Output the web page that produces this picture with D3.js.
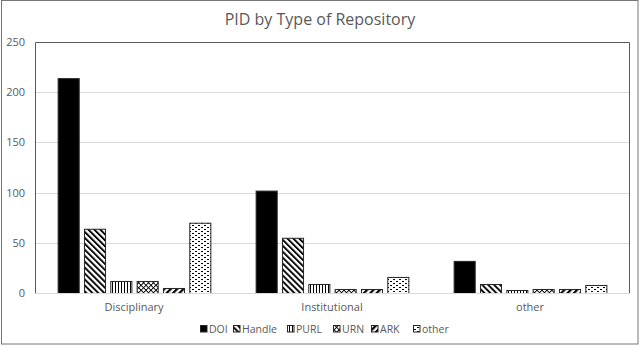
<!DOCTYPE html>
<html><head><meta charset="utf-8">
<script src="https://cdn.jsdelivr.net/npm/d3@7"></script>
<style>body{margin:0;background:#fff}svg{display:block}text{font-family:"Open Sans","Liberation Sans",sans-serif}</style>
</head><body><svg id="c" width="640" height="346"></svg>
<script>
const categories = ["Disciplinary", "Institutional", "other"];
const series = ["DOI", "Handle", "PURL", "URN", "ARK", "other"];
const DOI = [214, 102, 32];
const Handle = [64, 55, 9];
const PURL = [12, 9, 3];
const URN = [12, 4, 4];
const ARK = [5, 4, 4];
const Other = [70, 16, 8];
const values = [DOI, Handle, PURL, URN, ARK, Other];
const yTicks = [0, 50, 100, 150, 200, 250];
const title = "PID by Type of Repository";

const svg = d3.select("#c");
const grey = "#595959";
const m = {l: 35, r: 629, t: 42, b: 293};

const defs = svg.append("defs");
const fills = ["#000"];
function pat(id, w, h, draw, rot) {
  const p = defs.append("pattern").attr("id", id).attr("patternUnits", "userSpaceOnUse")
    .attr("width", w).attr("height", h);
  if (rot) p.attr("patternTransform", "rotate(" + rot + ")");
  p.append("rect").attr("width", w).attr("height", h).attr("fill", "#fff");
  draw(p);
  return "url(#" + id + ")";
}
fills.push(pat("pHandle", 4.2, 4.2, p => p.append("rect").attr("x", 0).attr("y", 0).attr("width", 1.9).attr("height", 4.2).attr("fill", "#000"), -45));
fills.push(pat("pPurl", 3, 3, p => p.append("rect").attr("x", 1).attr("y", 0).attr("width", 1).attr("height", 3).attr("fill", "#000")));
fills.push(pat("pUrn", 3.5, 3.5, p => {
  p.append("rect").attr("x", 0).attr("y", 0).attr("width", 0.9).attr("height", 3.5).attr("fill", "#000");
  p.append("rect").attr("x", 0).attr("y", 0).attr("width", 3.5).attr("height", 0.9).attr("fill", "#000");
}, 45));
fills.push(pat("pArk", 4.5, 4.5, p => p.append("rect").attr("x", 0).attr("y", 0).attr("width", 2.2).attr("height", 4.5).attr("fill", "#000"), 45));
fills.push(pat("pOther", 6, 4, p => {
  p.append("rect").attr("x", 0).attr("y", 1).attr("width", 2).attr("height", 1).attr("fill", "#000");
  p.append("rect").attr("x", 3).attr("y", 3).attr("width", 2).attr("height", 1).attr("fill", "#000");
}));

// outer border
svg.append("rect").attr("x", 1.5).attr("y", 0.5).attr("width", 636.5).attr("height", 343.5)
  .attr("fill", "none").attr("stroke", "#767676").attr("stroke-width", 1);

const y = d3.scaleLinear().domain([0, 250]).range([m.b, m.t]);
const x0 = d3.scaleBand().domain(categories).range([m.l, m.r]).padding(0);
const x1 = d3.scaleBand().domain(series).range([0, x0.bandwidth()]).paddingInner(0.2).paddingOuter(0.86);

// gridlines
svg.append("g").selectAll("line").data(yTicks.filter(t => t > 0 && t < 250)).join("line")
  .attr("x1", m.l).attr("x2", m.r).attr("y1", d => Math.round(y(d)) + 0.5).attr("y2", d => Math.round(y(d)) + 0.5)
  .attr("stroke", "#d9d9d9").attr("stroke-width", 1);

// y axis labels
const ya = svg.append("g").attr("transform", `translate(${m.l},0)`)
  .call(d3.axisLeft(y).tickValues(yTicks).tickSize(0).tickPadding(10));
ya.select(".domain").remove();
ya.selectAll("text").attr("fill", grey).style("font-size", "11px").style("font-family", "'Open Sans',sans-serif");

// bars
const g = svg.append("g");
categories.forEach((c, ci) => {
  series.forEach((s, si) => {
    const v = values[si][ci];
    g.append("rect")
      .attr("x", x0(c) + x1(s) + 0.5)
      .attr("y", y(v) + 0.5)
      .attr("width", x1.bandwidth())
      .attr("height", y(0) - y(v))
      .attr("fill", fills[si]).attr("stroke", "#262626").attr("stroke-width", 1);
  });
});

// x axis baseline
svg.append("line").attr("x1", m.l).attr("x2", m.r).attr("y1", m.b + 0.5).attr("y2", m.b + 0.5)
  .attr("stroke", "#d9d9d9");
const xa = svg.append("g").attr("transform", `translate(0,${m.b})`)
  .call(d3.axisBottom(x0).tickSize(0).tickPadding(10));
xa.select(".domain").remove();
xa.selectAll("text").attr("fill", grey).style("font-size", "11px").style("font-family", "'Open Sans',sans-serif");

// plot border (top, left, right)
svg.append("path").attr("d", `M${m.l + 0.5},${m.b}V${m.t + 0.5}H${m.r + 0.5}V${m.b}`)
  .attr("fill", "none").attr("stroke", grey).attr("stroke-width", 1);

// title
svg.append("text").attr("x", 320).attr("y", 25).attr("text-anchor", "middle")
  .attr("fill", grey).style("font-size", "16px").text(title);

// legend
const legX = [200, 233, 287, 333, 371, 413];
const lg = svg.append("g");
series.forEach((s, i) => {
  lg.append("rect").attr("x", legX[i] + 0.5).attr("y", 325.5).attr("width", 6.5).attr("height", 6.5)
    .attr("fill", fills[i]).attr("stroke", "#262626");
  lg.append("text").attr("x", legX[i] + 9).attr("y", 333).attr("fill", grey)
    .style("font-size", "10.5px").text(s);
});
</script></body></html>
